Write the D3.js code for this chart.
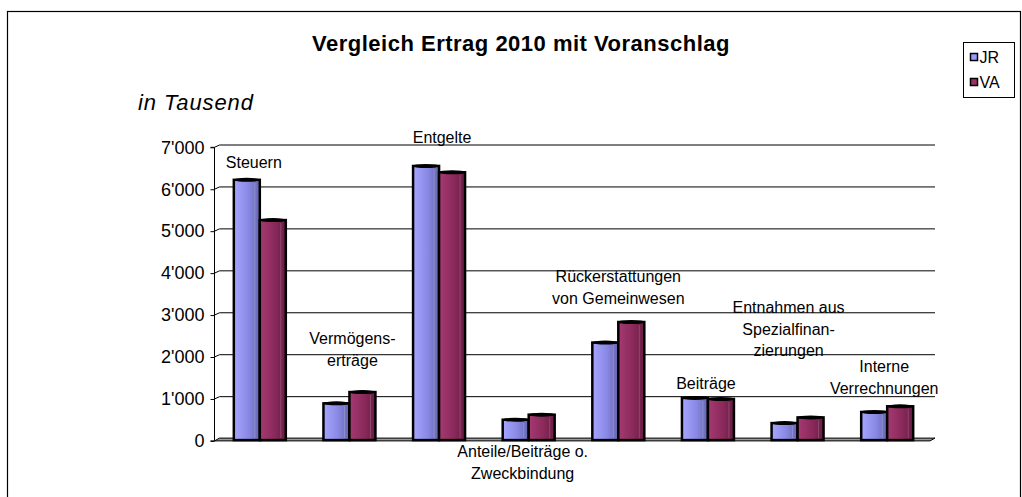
<!DOCTYPE html>
<html>
<head>
<meta charset="utf-8">
<script src="https://cdn.jsdelivr.net/npm/d3@7"></script>
<style>
  body { margin: 0; background: #fff; }
  svg text { font-family: "Liberation Sans", Arial, sans-serif; fill: #000; }
</style>
</head>
<body>
<div id="graph"></div>
<script>
// Data
const categories = ["Steuern", "Vermögenserträge", "Entgelte", "Anteile/Beiträge o. Zweckbindung",
    "Rückerstattungen von Gemeinwesen", "Beiträge", "Entnahmen aus Spezialfinanzierungen", "Interne Verrechnungen"];
const categoryLines = [
    ["Steuern"],
    ["Vermögens-", "erträge"],
    ["Entgelte"],
    ["Anteile/Beiträge o.", "Zweckbindung"],
    ["Rückerstattungen", "von Gemeinwesen"],
    ["Beiträge"],
    ["Entnahmen aus", "Spezialfinan-", "zierungen"],
    ["Interne", "Verrechnungen"]
];
const series = ["JR", "VA"];
const valuesJR = [6170, 840, 6500, 450, 2290, 970, 370, 635];
const valuesVA = [5210, 1110, 6350, 570, 2780, 945, 505, 770];
const yTicks = [0, 1000, 2000, 3000, 4000, 5000, 6000, 7000];

// Label placement (layout only): first baseline and horizontal shift
const labelPlace = [
    { y: 168, dx: -6 }, { y: 344, dx: 3 }, { y: 143, dx: 3 }, { y: 457, dx: -6 },
    { y: 282, dx: 0 }, { y: 389, dx: -2 }, { y: 313, dx: -9 }, { y: 372, dx: -3 }
];

const width = 1022, height = 497;
const depth = { x: 5, y: 2.3 };   // fake 3D offset of the back wall

const svg = d3.select("#graph").append("svg")
    .attr("width", width)
    .attr("height", height);

// Gradients for the cylinder-ish bars
const defs = svg.append("defs");
const grads = {
    JR: [["0%", "#a6a6ff"], ["55%", "#8a8ae6"], ["100%", "#6565ad"]],
    VA: [["0%", "#a53a72"], ["55%", "#8c2a5c"], ["100%", "#681c43"]]
};
Object.keys(grads).forEach(k => {
    const g = defs.append("linearGradient").attr("id", "grad-" + k)
        .attr("x1", "0%").attr("x2", "100%").attr("y1", "0%").attr("y2", "0%");
    grads[k].forEach(s => g.append("stop").attr("offset", s[0]).attr("stop-color", s[1]));
});
const colors = { JR: "#9999ff", VA: "#993366" };

// Outer frame
svg.append("rect")
    .attr("x", 7.5).attr("y", 11.5)
    .attr("width", 1013).attr("height", 520)
    .attr("fill", "none").attr("stroke", "#000").attr("stroke-width", 1.2);

// Scales
const y = d3.scaleLinear().domain([0, 7000]).range([438.6, 145]);
const axisX = 214.5;
const x0 = d3.scaleBand().domain(categories).range([215, 932])
    .paddingInner(0.42).paddingOuter(0.21);
const x1 = d3.scaleBand().domain(series).range([0, x0.bandwidth()]);

// Title & unit
svg.append("text")
    .attr("x", 521).attr("y", 51)
    .attr("text-anchor", "middle")
    .attr("font-size", 22).attr("font-weight", "bold")
    .attr("letter-spacing", 0.5)
    .text("Vergleich Ertrag 2010 mit Voranschlag");

svg.append("text")
    .attr("x", 138).attr("y", 110)
    .attr("font-size", 22).attr("font-style", "italic")
    .attr("letter-spacing", 0.9)
    .text("in Tausend");

// Gridlines (back wall) with the diagonal from the axis
const grid = svg.append("g");
yTicks.filter(d => d > 0).forEach(d => {
    grid.append("path")
        .attr("d", `M${axisX},${y(d) + depth.y} L${axisX + depth.x},${y(d)} L935,${y(d)}`)
        .attr("fill", "none").attr("stroke", "#000").attr("stroke-width", 1);
});

// Floor
svg.append("path")
    .attr("d", `M${axisX},${y(0) + depth.y} L${axisX + depth.x},${y(0) - 0.5} L935,${y(0) - 0.5} L930,${y(0) + depth.y} Z`)
    .attr("fill", "#999").attr("stroke", "#000").attr("stroke-width", 1);

// Y axis
const leftAxis = d3.axisLeft(y)
    .tickValues(yTicks)
    .tickSize(4)
    .tickPadding(6)
    .tickFormat(d => d3.format(",")(d).replace(/,/g, "'"));
const axisG = svg.append("g")
    .attr("transform", `translate(${axisX},${depth.y})`)
    .call(leftAxis);
axisG.select(".domain").attr("stroke", "#000").attr("d", `M-4,${y(7000)}H0V${y(0)}H-4`);
axisG.selectAll("text")
    .attr("font-family", "Liberation Sans, Arial, sans-serif")
    .attr("font-size", 18).attr("fill", "#000");

// Bars
const rows = categories.map((c, i) => ({ cat: c, JR: valuesJR[i], VA: valuesVA[i] }));
const floorY = y(0) + 1.5;
const groups = svg.append("g").selectAll("g").data(rows).join("g")
    .attr("transform", d => `translate(${x0(d.cat)},0)`);

const bars = groups.selectAll("g").data(d => series.map(s => ({ key: s, value: d[s] }))).join("g");
bars.append("rect")
    .attr("x", d => x1(d.key))
    .attr("y", d => y(d.value))
    .attr("width", x1.bandwidth())
    .attr("height", d => floorY - y(d.value))
    .attr("fill", d => `url(#grad-${d.key})`)
    .attr("stroke", "#000").attr("stroke-width", 2.5);
// light highlight stripe
bars.append("line")
    .attr("x1", d => x1(d.key) + x1.bandwidth() - 5)
    .attr("x2", d => x1(d.key) + x1.bandwidth() - 5)
    .attr("y1", d => y(d.value) + 3)
    .attr("y2", floorY - 2)
    .attr("stroke", "#fff").attr("stroke-opacity", 0.18).attr("stroke-width", 1);
// top cap
bars.append("ellipse")
    .attr("cx", d => x1(d.key) + x1.bandwidth() / 2)
    .attr("cy", d => y(d.value))
    .attr("rx", x1.bandwidth() / 2)
    .attr("ry", 2)
    .attr("fill", "#000");

// Category labels
categoryLines.forEach((lines, i) => {
    const cx = x0(categories[i]) + x0.bandwidth() / 2 + labelPlace[i].dx;
    const t = svg.append("text")
        .attr("text-anchor", "middle")
        .attr("font-size", 16);
    lines.forEach((l, j) => {
        t.append("tspan")
            .attr("x", cx)
            .attr("y", labelPlace[i].y + j * 21.5)
            .text(l);
    });
});

// Legend
const legend = svg.append("g").attr("transform", "translate(963.5,42.5)");
legend.append("rect")
    .attr("width", 51).attr("height", 55)
    .attr("fill", "#fff").attr("stroke", "#000").attr("stroke-width", 1);
series.forEach((s, i) => {
    legend.append("rect")
        .attr("x", 7).attr("y", 11 + i * 25)
        .attr("width", 7).attr("height", 7)
        .attr("fill", colors[s]).attr("stroke", "#000").attr("stroke-width", 1.5);
    legend.append("text")
        .attr("x", 16).attr("y", 20.5 + i * 25)
        .attr("font-size", 16)
        .text(s);
});
</script>
</body>
</html>
